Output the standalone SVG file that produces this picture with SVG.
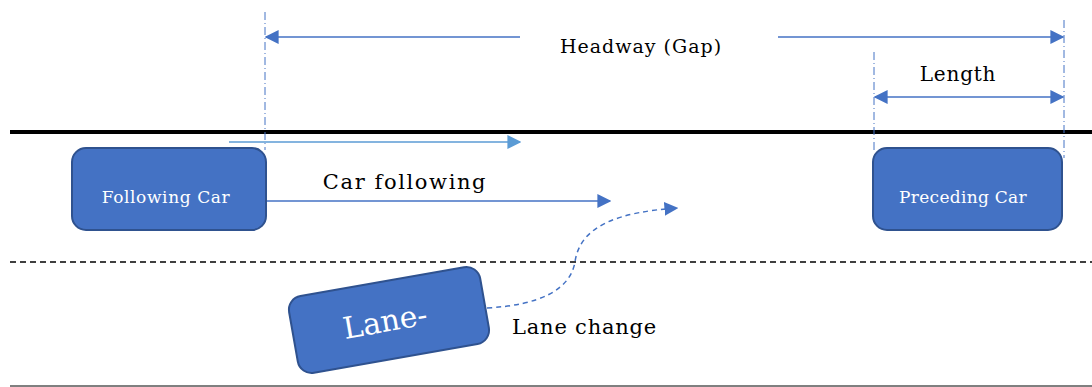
<svg xmlns="http://www.w3.org/2000/svg" width="1092" height="387" viewBox="0 0 1092 387">
  <style>
    .car { fill: #4472C4; stroke: #2F528F; stroke-width: 2; }
    .carlabel { font-family: "DejaVu Serif", serif; fill: #ffffff; text-anchor: middle; }
    .label { font-family: "DejaVu Serif", serif; fill: #000000; }
    .dim { stroke: #4472C4; stroke-width: 1.5; fill: none; }
    .ext { stroke: #4472C4; stroke-width: 1; stroke-dasharray: 8 3 1 3; fill: none; }
  </style>
  <defs>
    <marker id="head" viewBox="0 0 10 10" refX="9" refY="5" markerWidth="14" markerHeight="14" markerUnits="userSpaceOnUse" orient="auto-start-reverse">
      <path d="M0,0 L10,5 L0,10 z" fill="#4472C4"/>
    </marker>
    <marker id="headLight" viewBox="0 0 10 10" refX="9" refY="5" markerWidth="14" markerHeight="14" markerUnits="userSpaceOnUse" orient="auto">
      <path d="M0,0 L10,5 L0,10 z" fill="#5B9BD5"/>
    </marker>
  </defs>

  <!-- road markings -->
  <g id="road">
    <line x1="10" y1="132" x2="1092" y2="132" stroke="#000" stroke-width="4"/>
    <line x1="10" y1="262" x2="1092" y2="262" stroke="#000" stroke-width="1.5" stroke-dasharray="6 4"/>
    <line x1="10" y1="386" x2="1092" y2="386" stroke="#000" stroke-width="1"/>
  </g>

  <!-- extension lines and dimensions -->
  <g id="connectors">
    <line class="ext" x1="265" y1="12" x2="265" y2="150"/>
    <line class="ext" x1="1064" y1="20" x2="1064" y2="158"/>
    <line class="ext" x1="874" y1="52" x2="874" y2="150"/>

    <line class="dim" x1="520" y1="37" x2="266" y2="37" marker-end="url(#head)"/>
    <line class="dim" x1="778" y1="37" x2="1063" y2="37" marker-end="url(#head)"/>
    <line class="dim" x1="875" y1="97" x2="1063" y2="97" marker-start="url(#head)" marker-end="url(#head)"/>

    <line x1="229" y1="142" x2="520" y2="142" stroke="#5B9BD5" stroke-width="1.5" marker-end="url(#headLight)"/>
    <line class="dim" x1="266" y1="201" x2="610" y2="201" marker-end="url(#head)"/>
    <path class="dim" d="M487,308 C540,305 570,290 575,262 C580,225 620,212 677,208" stroke-dasharray="5 4" marker-end="url(#head)"/>
  </g>

  <g id="headway-label"><text class="label" x="641" y="53" text-anchor="middle" font-size="19" letter-spacing="1">Headway (Gap)</text></g>
  <g id="length-label"><text class="label" x="958" y="81" text-anchor="middle" font-size="20" letter-spacing="0.8">Length</text></g>
  <g id="car-following-label"><text class="label" x="405" y="189" text-anchor="middle" font-size="21" letter-spacing="1.6">Car following</text></g>
  <g id="lane-change-label"><text class="label" x="512" y="334" font-size="21" letter-spacing="0.8">Lane change</text></g>

  <g id="following-car">
    <rect class="car" x="72" y="148" width="194" height="82" rx="14"/>
    <text class="carlabel" x="166" y="203" font-size="17" letter-spacing="0.6">Following Car</text>
  </g>

  <g id="preceding-car">
    <rect class="car" x="873" y="148" width="189" height="82" rx="14"/>
    <text class="carlabel" x="963" y="203" font-size="17" letter-spacing="0.3">Preceding Car</text>
  </g>

  <g id="lane-change-car" transform="translate(389,320) rotate(-10)">
    <rect class="car" x="-97" y="-39" width="194" height="78" rx="14"/>
    <text class="carlabel" x="-4" y="11" font-size="30">Lane-</text>
  </g>
</svg>
